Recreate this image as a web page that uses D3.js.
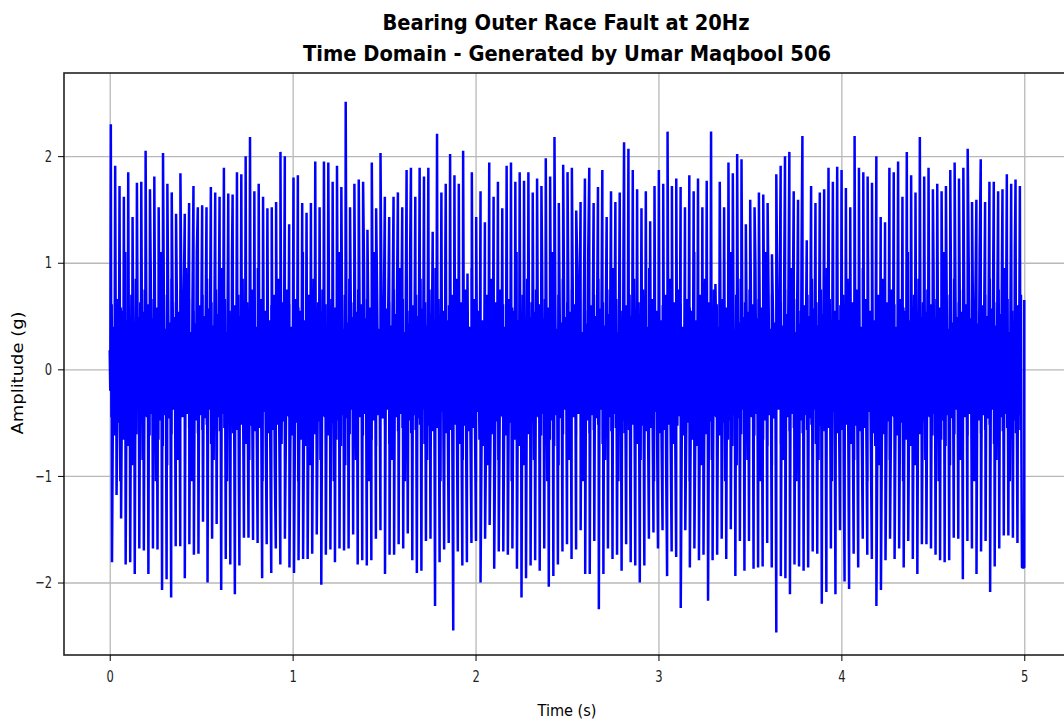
<!DOCTYPE html>
<html>
<head>
<meta charset="utf-8">
<script src="https://cdn.jsdelivr.net/npm/d3@7"></script>
<style>
  body { margin: 0; background: #fff; }
  svg { display: block; }
  text { font-family: "DejaVu Sans", sans-serif; }
</style>
</head>
<body>
<div id="chart"></div>
<script>
// chart text
const titleLines = ["Bearing Outer Race Fault at 20Hz", "Time Domain - Generated by Umar Maqbool 506"];
const xLabel = "Time (s)";
const yLabel = "Amplitude (g)";
const xTicks = [0, 1, 2, 3, 4, 5];
const yTicks = [-2, -1, 0, 1, 2];
const duration = 5;

// positive spike tips, left to right
const tops = [
  2.30, 1.91, 1.72, 1.62, 1.85, 1.43, 1.75, 1.76, 2.05, 1.69, 1.81, 1.52, 2.03, 1.74, 1.66, 1.46, 1.84, 1.46, 1.56, 1.72,
  1.52, 1.54, 1.52, 1.71, 1.66, 1.62, 1.89, 1.65, 1.64, 1.85, 1.83, 2.00, 2.18,
  1.67, 1.74, 1.62, 1.51, 1.52, 1.57, 2.04, 2.00, 1.36, 1.80, 1.82, 1.56, 1.47, 1.56, 1.95, 1.52, 1.95, 1.94, 1.76, 1.91,
  1.71, 2.51, 1.52, 1.74, 1.78, 1.76, 1.31, 1.94, 1.51, 2.03, 1.62, 1.43, 1.62, 1.66, 1.52, 1.87, 1.89,
  1.62, 1.89, 1.81, 1.89, 1.29, 2.21, 1.66, 1.74, 2.02, 1.82, 1.74, 2.05, 0.90, 1.85, 1.43, 1.67, 1.38, 1.94, 1.62, 1.76,
  1.51, 1.91, 1.94, 1.76, 1.85, 1.77, 1.85, 1.66, 1.79, 1.72, 1.98, 1.81, 2.18, 1.56, 1.92, 1.85, 1.89, 1.49,
  1.57, 1.79, 1.89, 1.56, 1.71, 1.87, 1.43, 1.67, 1.57, 1.66, 2.13, 2.07, 1.87, 1.69, 1.51, 1.67, 1.39, 1.72, 1.87, 1.74,
  2.23, 1.72, 1.79, 1.71, 1.52, 1.82, 1.67, 1.79, 1.52, 1.77, 2.23, 0.80, 1.76, 1.52,
  1.94, 1.84, 2.02, 1.97, 1.36, 1.59, 1.52, 1.66, 1.64, 1.56, 1.08, 1.83, 1.91, 2.00, 2.04, 1.67, 1.59, 2.19, 1.21, 1.72,
  1.56, 1.66, 1.69, 1.89, 1.76, 1.90, 1.87, 1.70, 1.52, 2.19, 1.89, 1.85, 1.81, 1.75, 2.00, 1.43,
  1.38, 1.89, 1.85, 1.95, 1.62, 2.04, 1.82, 1.66, 2.18, 1.81, 1.89, 1.69, 1.74, 1.67, 1.72, 1.87, 1.94, 1.79, 1.89, 2.07,
  1.57, 1.59, 1.97, 1.57, 1.76, 1.76, 1.67, 1.69, 1.83, 1.74, 1.78, 1.72
];

// negative spike tips, left to right
const bottoms = [
  -1.81, -1.18, -1.40, -1.83, -1.81, -1.92, -1.68, -1.70, -1.92, -1.68, -1.69, -2.07, -1.97, -2.14, -1.66, -1.66,
  -1.96, -1.64, -1.74, -1.73, -1.43, -2.00, -1.59, -1.45, -2.07, -1.78, -1.83, -2.11, -1.84, -1.58, -1.58, -1.60,
  -1.63, -1.96, -1.64, -1.91, -1.68, -1.83, -1.59, -1.86, -1.91, -1.79, -1.78, -1.78, -1.73, -1.55, -2.02, -1.74,
  -1.69, -1.81, -1.68, -1.70, -1.68, -1.55, -1.83, -1.79, -1.84, -1.79, -1.59, -1.51, -1.92, -1.74, -1.74, -1.64, -1.68,
  -1.54, -1.79, -1.91, -1.89, -1.61, -1.59, -2.22, -1.81, -1.69, -1.63, -2.45, -1.71, -1.84, -1.81, -1.63, -1.61,
  -2.00, -1.59, -1.46, -1.87, -1.71, -1.71, -1.74, -1.68, -1.87, -2.14, -1.96, -1.84, -1.79, -1.89, -1.68, -2.04, -1.94, -1.83,
  -1.71, -1.64, -1.78, -1.69, -1.51, -1.92, -1.92, -1.61, -2.25, -1.92, -1.68, -1.78, -1.74, -1.89, -1.64, -1.81,
  -1.84, -2.00, -1.84, -1.59, -1.53, -1.68, -1.51, -1.94, -1.71, -1.76, -2.24, -1.51, -1.86, -1.68, -1.79, -1.74, -2.17, -1.79,
  -1.74, -1.59, -1.78, -1.50, -1.94, -1.61, -1.89, -1.61, -1.87, -1.86, -1.85, -1.63, -1.86, -2.47, -1.94, -1.96,
  -2.11, -1.83, -1.85, -1.89, -1.86, -1.71, -1.73, -2.20, -2.09, -1.68, -2.11, -1.51, -1.99, -2.06, -1.73, -1.86, -1.59, -1.74,
  -1.78, -2.22, -2.07, -1.79, -1.59, -1.78, -1.68, -1.86, -1.61, -1.78, -1.92, -1.64, -1.64, -1.68, -1.74, -1.79,
  -1.81, -1.79, -1.58, -1.59, -1.97, -1.61, -1.68, -1.92, -1.71, -1.61, -2.09, -1.85, -1.68, -1.56, -1.56, -1.58, -1.63, -1.86
];

// low-level ringing between the spikes (the solid band round zero)
const ripple = [0.52, -0.45, 0.61, -0.58, 0.40, -0.62, 0.95, -0.42, 0.48, -0.55, 0.66, -0.50, 0.35, -1.05, 0.58, -0.40,
                0.55, -0.66, 0.43, -0.48, 1.10, -0.60, 0.46, -0.72, 0.60, -0.43, 0.38, -0.57, 0.70, -0.90, 0.50, -0.46,
                0.44, -0.52, 0.85, -0.61, 0.57, -0.38, 0.49, -0.70, 0.63, -0.49, 0.41, -0.85, 0.54, -0.53, 0.75, -0.44];
const startValues = [0.18, -0.20];
const endValues = [-1.86, 0.65];

const width = 1064, height = 722;
const margin = { left: 64, top: 73, right: -6, bottom: 67 };

const svg = d3.select("#chart")
  .append("svg")
  .attr("width", width)
  .attr("height", height);

const x = d3.scaleLinear()
  .domain([-0.25, 5.25])
  .range([margin.left, width - margin.right]);

const y = d3.scaleLinear()
  .domain([-2.68, 2.78])
  .range([height - margin.bottom, margin.top]);

// grid
svg.append("g")
  .attr("transform", `translate(0, ${height - margin.bottom})`)
  .call(d3.axisBottom(x).tickValues(xTicks).tickSize(-(height - margin.bottom - margin.top)).tickFormat(""))
  .call(g => g.select(".domain").remove())
  .call(g => g.selectAll("line").attr("stroke", "#b8b8b8").attr("stroke-width", 1.3));

svg.append("g")
  .attr("transform", `translate(${margin.left}, 0)`)
  .call(d3.axisLeft(y).tickValues(yTicks).tickSize(-(width - margin.right - margin.left)).tickFormat(""))
  .call(g => g.select(".domain").remove())
  .call(g => g.selectAll("line").attr("stroke", "#b8b8b8").attr("stroke-width", 1.3));

// build the signal: spikes from the arrays, ringing points placed between them
const peaks = [];
tops.forEach((v, i) => peaks.push({ t: 0.006 + i * (duration - 0.03) / (tops.length - 1), v: v }));
bottoms.forEach((v, i) => peaks.push({ t: (i + 0.5) * duration / bottoms.length, v: v }));
peaks.sort((a, b) => a.t - b.t);

const series = [{ t: 0, v: startValues[0] }, { t: 0.003, v: startValues[1] }];
let k = 0;
peaks.forEach((p, i) => {
  series.push(p);
  const next = peaks[i + 1];
  if (next) {
    for (let j = 1; j <= 3; j++) {
      series.push({ t: p.t + j * (next.t - p.t) / 4, v: ripple[k++ % ripple.length] });
    }
  }
});
series.push({ t: duration, v: endValues[0] }, { t: duration, v: endValues[1] });

const line = d3.line()
  .x(d => x(d.t))
  .y(d => y(d.v));

svg.append("path")
  .datum(series)
  .attr("fill", "none")
  .attr("stroke", "#0000ff")
  .attr("stroke-width", 2.5)
  .attr("stroke-linejoin", "bevel")
  .attr("d", line);

// frame
svg.append("rect")
  .attr("x", margin.left)
  .attr("y", margin.top)
  .attr("width", width - margin.right - margin.left)
  .attr("height", height - margin.bottom - margin.top)
  .attr("fill", "none")
  .attr("stroke", "#222")
  .attr("stroke-width", 1.6);

// axes (labels squeezed sideways like the reference)
const xAxis = svg.append("g")
  .attr("transform", `translate(0, ${height - margin.bottom})`)
  .call(d3.axisBottom(x).tickValues(xTicks).tickSize(6).tickPadding(10).tickFormat(d3.format("d")));
xAxis.select(".domain").remove();
xAxis.selectAll("text").attr("font-size", 16).attr("fill", "#222")
  .attr("transform", "scale(0.72,1)");

const yAxis = svg.append("g")
  .attr("transform", `translate(${margin.left}, 0)`)
  .call(d3.axisLeft(y).tickValues(yTicks).tickSize(6).tickPadding(6).tickFormat(d3.format("d")));
yAxis.select(".domain").remove();
yAxis.selectAll("text").attr("font-size", 16).attr("fill", "#222")
  .attr("x", -12 / 0.72)
  .attr("transform", "scale(0.72,1)");

// titles and axis labels
svg.append("text")
  .attr("x", 566).attr("y", 30)
  .attr("text-anchor", "middle")
  .attr("font-size", 22).attr("font-weight", "bold")
  .attr("textLength", 367).attr("lengthAdjust", "spacingAndGlyphs")
  .text(titleLines[0]);

svg.append("text")
  .attr("x", 567).attr("y", 61)
  .attr("text-anchor", "middle")
  .attr("font-size", 22).attr("font-weight", "bold")
  .attr("textLength", 528).attr("lengthAdjust", "spacingAndGlyphs")
  .text(titleLines[1]);

svg.append("text")
  .attr("x", 567).attr("y", 716)
  .attr("text-anchor", "middle")
  .attr("font-size", 16)
  .attr("textLength", 59).attr("lengthAdjust", "spacingAndGlyphs")
  .text(xLabel);

svg.append("text")
  .attr("transform", `translate(23, ${(margin.top + height - margin.bottom) / 2 + 9}) rotate(-90)`)
  .attr("text-anchor", "middle")
  .attr("font-size", 16)
  .attr("textLength", 123).attr("lengthAdjust", "spacingAndGlyphs")
  .text(yLabel);
</script>
</body>
</html>
